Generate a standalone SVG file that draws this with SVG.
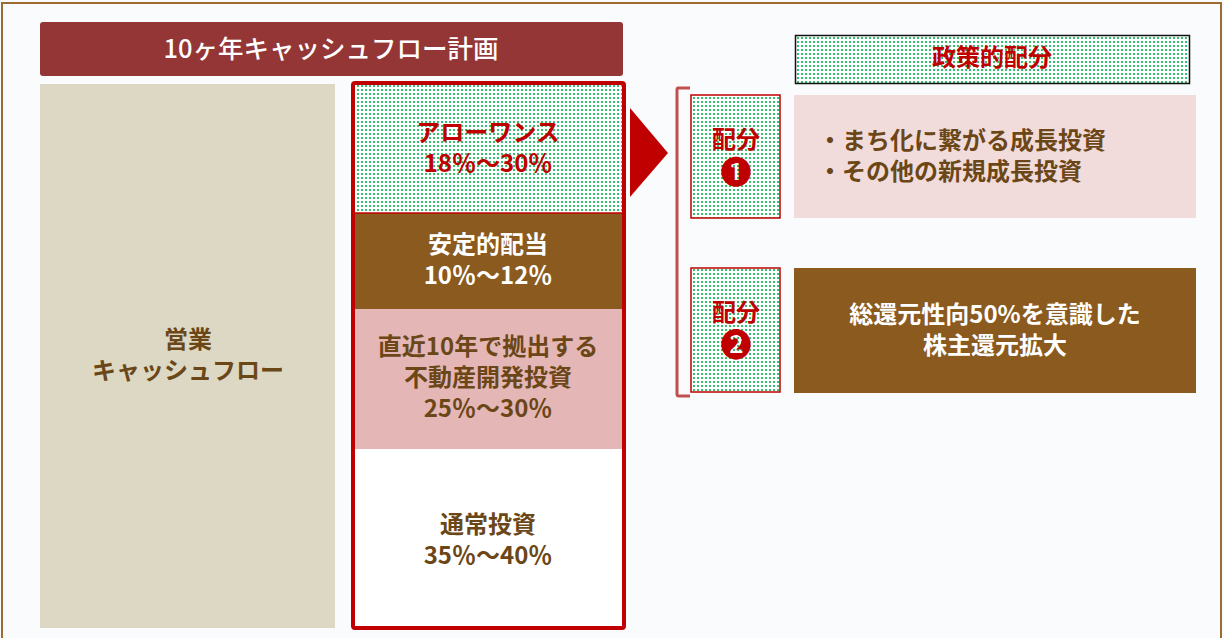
<svg xmlns="http://www.w3.org/2000/svg" width="1224" height="638" viewBox="0 0 1224 638">
<defs>
<pattern id="dots" x="0" y="0" width="4" height="4" patternUnits="userSpaceOnUse">
<rect width="4" height="4" fill="#ffffff"/>
<rect x="1" y="1" width="2" height="2" fill="#12b45a" fill-opacity="0.85"/>
</pattern>
<style>
text{font-family:"Noto Sans CJK JP","Noto Sans",sans-serif;font-weight:700;font-size:24px;text-anchor:middle}
.w{fill:#ffffff}
.r{fill:#c00000}
.b{fill:#6b4718}
.lft{text-anchor:start}
.ttl{font-weight:500;font-size:25.5px}
.num{font-size:31px}
</style>
</defs>
<rect x="0" y="0" width="1224" height="638" fill="#fafbfd"/>
<rect x="2" y="3" width="1219" height="645" fill="none" stroke="#9c6b30" stroke-width="2"/>

<g id="title">
<rect x="40" y="22" width="583" height="54" rx="3" fill="#943636"/>
<text class="w ttl" x="331" y="58">10ヶ年キャッシュフロー計画</text>
</g>

<g id="operating-cf">
<rect x="40" y="84" width="295" height="544" fill="#ddd8c3"/>
<text class="b" x="188" y="348">営業<tspan x="188" dy="31">キャッシュフロー</tspan></text>
</g>

<g id="column">
<rect x="355" y="85" width="267" height="128" fill="url(#dots)"/>
<rect x="355" y="213" width="267" height="96" fill="#8a5a1e"/>
<rect x="355" y="309" width="267" height="140" fill="#e5b6b6"/>
<rect x="355" y="449" width="267" height="179" fill="#ffffff"/>
<line x1="355" y1="213" x2="622" y2="213" stroke="#c00000" stroke-width="1.5"/>
<rect x="353" y="83" width="271" height="545" rx="2" fill="none" stroke="#c00000" stroke-width="4"/>
</g>
<g id="allowance">
<text class="r" x="488" y="141">アローワンス<tspan x="488" dy="31">18％～30％</tspan></text>
</g>
<g id="dividend">
<text class="w" x="488" y="253">安定的配当<tspan x="488" dy="31">10％～12％</tspan></text>
</g>
<g id="realestate">
<text class="b" x="488" y="355">直近10年で拠出する<tspan x="488" dy="31">不動産開発投資</tspan><tspan x="488" dy="31">25％～30％</tspan></text>
</g>
<g id="normal">
<text class="b" x="488" y="533">通常投資<tspan x="488" dy="31">35％～40％</tspan></text>
</g>

<g id="connectors">
<polygon points="630,108 668,153 630,197" fill="#c00000"/>
<path d="M690,88 L678,88 Q677,88 677,90 L677,394 Q677,396 679,396 L690,396" fill="none" stroke="#c0504d" stroke-width="3"/>
</g>

<g id="policy-header">
<rect x="795.5" y="35.5" width="394" height="48" fill="url(#dots)" stroke="#111111" stroke-width="1.5"/>
<text class="r" x="992" y="66">政策的配分</text>
</g>

<g id="alloc1">
<rect x="691" y="95" width="89" height="123" fill="url(#dots)" stroke="#c00000" stroke-width="1.5"/>
<text class="r" x="736" y="148">配分<tspan class="num" x="736" dy="35">❶</tspan></text>
</g>
<g id="growth">
<rect x="794" y="95" width="402" height="123" fill="#f2dcdb"/>
<text class="b lft" x="818" y="149">・まち化に繋がる成長投資<tspan x="818" dy="31">・その他の新規成長投資</tspan></text>
</g>

<g id="alloc2">
<rect x="691" y="268" width="89" height="124" fill="url(#dots)" stroke="#c00000" stroke-width="1.5"/>
<text class="r" x="736" y="321">配分<tspan class="num" x="736" dy="35">❷</tspan></text>
</g>
<g id="return">
<rect x="794" y="268" width="402" height="125" fill="#8a5a1e"/>
<text class="w" x="995" y="323">総還元性向50%を意識した<tspan x="995" dy="31">株主還元拡大</tspan></text>
</g>
</svg>
